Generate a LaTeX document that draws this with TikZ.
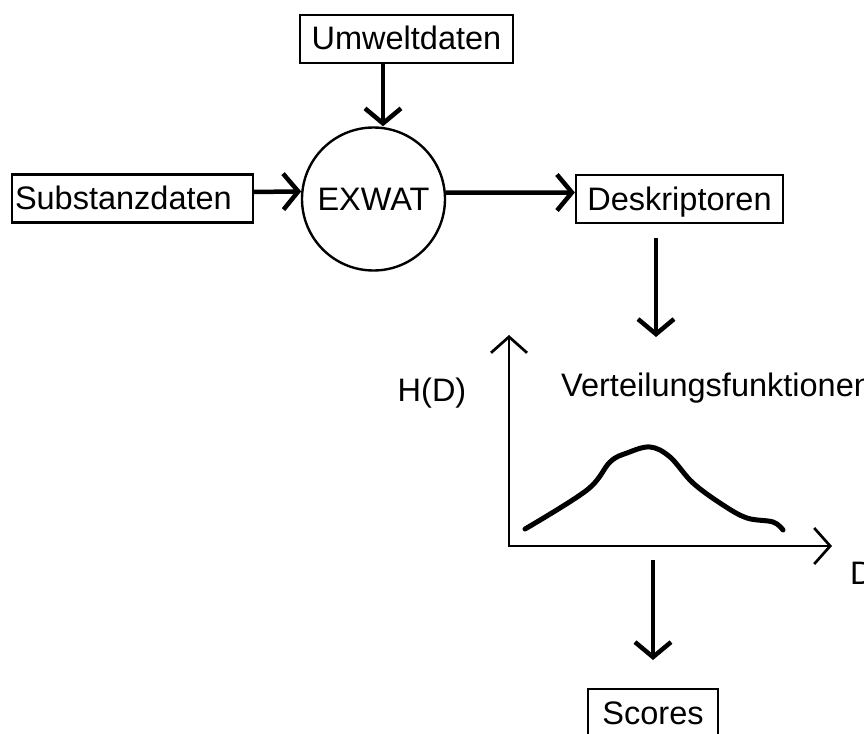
\documentclass[tikz,border=0pt]{standalone}
\usepackage{fontspec}
\setmainfont{Liberation Sans}
\usetikzlibrary{arrows.meta,calc}
\begin{document}
\begin{tikzpicture}[x=1pt,y=-1pt,
  every node/.style={font=\fontsize{32.5}{39}\selectfont},
  box/.style={draw,line width=2.2pt,minimum height=48pt,inner sep=0pt,
    text height=26pt,text depth=4pt},
  proc/.style={draw,circle,line width=2.4pt,minimum size=143pt,inner sep=0pt},
  flow/.style={line width=4.5pt,
    -{Straight Barb[length=15pt,width=36pt,line width=4.5pt]}},
  axis/.style={line width=2.7pt,line join=miter,
    {Straight Barb[length=16pt,width=36pt,line width=2.7pt]}-{Straight Barb[length=16pt,width=36pt,line width=2.7pt]}},
  curve/.style={line width=5pt,line cap=round,line join=round},
  lbl/.style={inner sep=0pt}]
\useasboundingbox (0,0) rectangle (864,733);
\clip (0,0) rectangle (864,733);

% data sources and the model
\node[box,minimum width=213pt] (umwelt) at (406.5,39) {Umweltdaten};
\node[box,minimum width=241pt,text width=235pt,align=left] (subst) at (132.5,198.5) {Substanzdaten};
\node[proc] (exwat) at (373.5,199) {EXWAT};
\node[box,minimum width=207pt] (desk) at (679.5,199) {Deskriptoren};
\node[box,minimum width=130pt] (scores) at (653,713) {Scores};

% flow connectors
\coordinate (uin) at ($(exwat.north)+(9.5,0)$);
\draw[flow] (uin |- umwelt.south) -- (uin);
\draw[flow] ([yshift=6.5pt]subst.east) -- (exwat.174.4);
\draw[flow] (exwat.5.6) -- ([yshift=6.5pt]desk.west);

\coordinate (d1) at (656,238);
\coordinate (d2) at (656,337);
\draw[flow] (d1) -- (d2);

% distribution plot
\coordinate (o) at (509,546);
\coordinate (ytip) at (509,335);
\coordinate (xtip) at (832,546);
\draw[axis] (ytip) -- (o) -- (xtip);
\node[lbl] (hd) at (432,393) {H(D)};
\node[lbl,anchor=west] (vf) at (561,388) {Verteilungsfunktionen};
\node[lbl,anchor=west] (dl) at (850,573) {D};
\draw[curve] plot[smooth,tension=0.6] coordinates {(525,529) (587,490) (610,462)
  (627,453) (650,447) (670,457) (693,483) (723,505) (747,518) (773,522) (783,530)};

\coordinate (s1) at (653,560);
\coordinate (s2) at (653,660);
\draw[flow] (s1) -- (s2);
\end{tikzpicture}
\end{document}
